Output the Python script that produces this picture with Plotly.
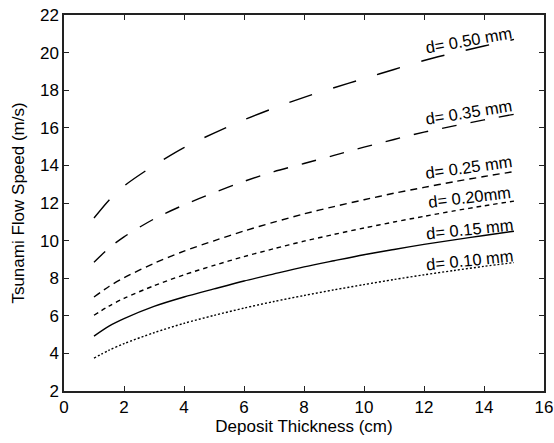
import plotly.graph_objects as go

# Deposit thickness (cm)
thickness = [1, 1.5, 2, 3, 4, 5, 6, 7, 8, 9, 10, 11, 12, 13, 14, 15]

# Flow speed (m/s) for each grain size d
speed_050 = [11.2, 12.15, 12.9, 14.0, 14.95, 15.72, 16.42, 17.05, 17.62, 18.13, 18.62, 19.1, 19.58, 19.98, 20.35, 20.7]
speed_035 = [8.85, 9.6, 10.2, 11.15, 11.9, 12.55, 13.15, 13.67, 14.1, 14.53, 14.97, 15.38, 15.77, 16.1, 16.42, 16.72]
speed_025 = [7.0, 7.56, 8.02, 8.79, 9.44, 9.99, 10.51, 10.98, 11.42, 11.81, 12.17, 12.52, 12.83, 13.13, 13.41, 13.67]
speed_020 = [6.03, 6.52, 6.93, 7.60, 8.18, 8.68, 9.15, 9.57, 9.97, 10.33, 10.67, 10.99, 11.29, 11.58, 11.85, 12.10]
speed_015 = [4.92, 5.45, 5.85, 6.50, 7.0, 7.43, 7.85, 8.23, 8.6, 8.93, 9.25, 9.53, 9.8, 10.04, 10.27, 10.5]
speed_010 = [3.75, 4.17, 4.52, 5.1, 5.6, 6.02, 6.41, 6.76, 7.08, 7.38, 7.66, 7.93, 8.18, 8.41, 8.63, 8.83]

labels = ["d= 0.50 mm", "d= 0.35 mm", "d= 0.25 mm", "d= 0.20mm", "d= 0.15 mm", "d= 0.10 mm"]
label_x = [13.5, 13.5, 13.5, 13.5, 13.52, 13.52]
label_y = [20.65, 16.82, 13.9, 12.34, 10.6, 8.96]
label_angle = [-10, -9, -8, -7, -6, -6]

x_ticks = [0, 2, 4, 6, 8, 10, 12, 14, 16]
y_ticks = [2, 4, 6, 8, 10, 12, 14, 16, 18, 20, 22]

series = [speed_050, speed_035, speed_025, speed_020, speed_015, speed_010]
dashes = ["24px,22px", "15px,14px", "7px,5px", "4.5px,4px", "solid", "2px,2px"]

fig = go.Figure()
for ys, dsh, lab in zip(series, dashes, labels):
    fig.add_trace(go.Scatter(
        x=thickness, y=ys, mode="lines", name=lab,
        line=dict(color="black", width=1.4, dash=dsh, shape="spline", smoothing=0.8),
        showlegend=False,
    ))

for t, xx, yy, ang in zip(labels, label_x, label_y, label_angle):
    fig.add_annotation(x=xx, y=yy, xref="x", yref="y", text=t, showarrow=False,
                       textangle=ang, xanchor="center", yanchor="middle",
                       font=dict(size=16.5, color="black"))

axis_common = dict(
    showgrid=False, zeroline=False, showline=True, linecolor="#222", linewidth=1.5,
    mirror="ticks", ticks="inside", ticklen=5, tickwidth=1.2, tickcolor="#222",
    tickfont=dict(size=17, color="black"), automargin=False, ticklabeloverflow="allow",
)

fig.update_xaxes(range=[0, 16], tickvals=x_ticks, ticktext=[str(v) for v in x_ticks],
                 title=dict(text="Deposit Thickness (cm)", font=dict(size=17, color="black"), standoff=0),
                 **axis_common)
fig.update_yaxes(range=[2, 22], tickvals=y_ticks, ticktext=[str(v) for v in y_ticks],
                 title=dict(text="Tsunami Flow Speed (m/s)", font=dict(size=17, color="black"), standoff=11),
                 **axis_common)

fig.update_layout(
    width=554, height=443,
    margin=dict(l=64, r=10, t=15, b=52),
    paper_bgcolor="white", plot_bgcolor="white",
    font=dict(family="Liberation Sans, Arial, Helvetica, sans-serif", color="black"),
)

# remove the default page margin so the figure fills the 554x443 window exactly
fig.write_html("out.html",
               config={"displayModeBar": False},
               post_script="document.body.style.margin='0';document.body.style.overflow='hidden';")
